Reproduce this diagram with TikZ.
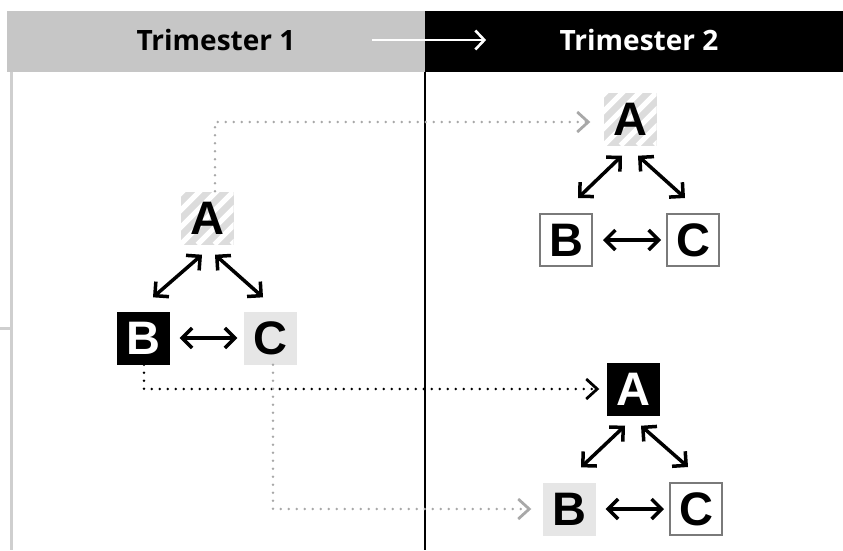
\documentclass[tikz,border=0pt]{standalone}
\usepackage{fontspec}
\setmainfont{Liberation Sans}
\newfontfamily\headfont{Open Sans}
\usetikzlibrary{arrows.meta}

\definecolor{headgray}{HTML}{C6C6C6}
\definecolor{boxgray}{HTML}{E6E6E6}
\definecolor{hatchgray}{HTML}{DCDCDC}
\definecolor{linegray}{HTML}{CFCFCF}
\definecolor{dotgray}{HTML}{A8A8A8}
\definecolor{framegray}{HTML}{7A7A7A}

\begin{document}
\begin{tikzpicture}[x=1pt, y=-1pt,
    letter/.style={minimum size=53pt, inner sep=0pt, font=\fontsize{47}{47}\selectfont\bfseries},
    hatched/.style={letter, fill=hatchgray, path picture={
        \foreach \s in {-68,-51,...,60}
            \draw[white, line width=5pt] ([xshift=\s pt]path picture bounding box.south west) -- ++(80pt,80pt);}},
    solidbox/.style={letter, fill=black, text=white},
    lightbox/.style={letter, fill=boxgray},
    framed/.style={letter, minimum size=52pt, draw=framegray, line width=2pt, fill=white},
    link/.style={line width=3.5pt, {Straight Barb[length=10pt,width=20pt]}-{Straight Barb[length=10pt,width=20pt]}},
    dots/.style={line width=2.8pt, line cap=round, dash pattern=on 0pt off 8pt, -{Straight Barb[length=11pt,width=20pt]}},
    head/.style={font=\headfont\fontsize{28}{28}\selectfont\bfseries}]
    \useasboundingbox (0,0) rectangle (843,550);

    % header
    \fill[headgray] (7,11) rectangle (425,72);
    \fill[black] (425,11) rectangle (843,72);
    \node[head] (t1) at (216,40) {Trimester 1};
    \node[head, text=white] (t2) at (639,40) {Trimester 2};
    \draw[white, line width=2.6pt, -{Straight Barb[length=9pt,width=19pt]}] ([xshift=73pt]t1.east) -- ([xshift=-70pt]t2.west);

    % column rules
    \draw[linegray, line width=3pt] (11,72) -- (11,550);
    \draw[linegray, line width=3pt] (0,328) -- (11,328);
    \draw[black, line width=2pt] (425,72) -- (425,550);

    % trimester 1
    \node[hatched] (a1) at (207,218) {A};
    \node[solidbox] (b1) at (143,338) {B};
    \node[lightbox] (c1) at (270,338) {C};
    \draw[link] ([xshift=-5pt,yshift=-10pt]a1.south) -- ([xshift=10pt,yshift=14pt]b1.north);
    \draw[link] ([xshift=8pt,yshift=-10pt]a1.south) -- ([xshift=-7pt,yshift=14pt]c1.north);
    \draw[link] ([xshift=10pt]b1.east) -- ([xshift=-6pt]c1.west);

    % trimester 2, top
    \node[hatched] (a2) at (630,119) {A};
    \node[framed] (b2) at (566,240) {B};
    \node[framed] (c2) at (693,240) {C};
    \draw[link] ([xshift=-8pt,yshift=-10pt]a2.south) -- ([xshift=12pt,yshift=15pt]b2.north);
    \draw[link] ([xshift=8pt,yshift=-10pt]a2.south) -- ([xshift=-8pt,yshift=15pt]c2.north);
    \draw[link] ([xshift=10pt]b2.east) -- ([xshift=-5pt]c2.west);

    % trimester 2, bottom
    \node[solidbox] (a3) at (633,389) {A};
    \node[lightbox] (b3) at (569,509) {B};
    \node[framed] (c3) at (696,509) {C};
    \draw[link] ([xshift=-8pt,yshift=-10pt]a3.south) -- ([xshift=12pt,yshift=15pt]b3.north);
    \draw[link] ([xshift=8pt,yshift=-10pt]a3.south) -- ([xshift=-8pt,yshift=15pt]c3.north);
    \draw[link] ([xshift=10pt]b3.east) -- ([xshift=-5pt]c3.west);

    % carried over
    \draw[dots, dotgray] ([xshift=8pt]a1.north) |- ([xshift=-13pt,yshift=-3pt]a2.west);
    \draw[dots, black] ([xshift=1pt]b1.south) |- ([xshift=-7pt]a3.west);
    \draw[dots, dotgray] ([xshift=3pt]c1.south) |- ([xshift=-11pt]b3.west);
\end{tikzpicture}
\end{document}
